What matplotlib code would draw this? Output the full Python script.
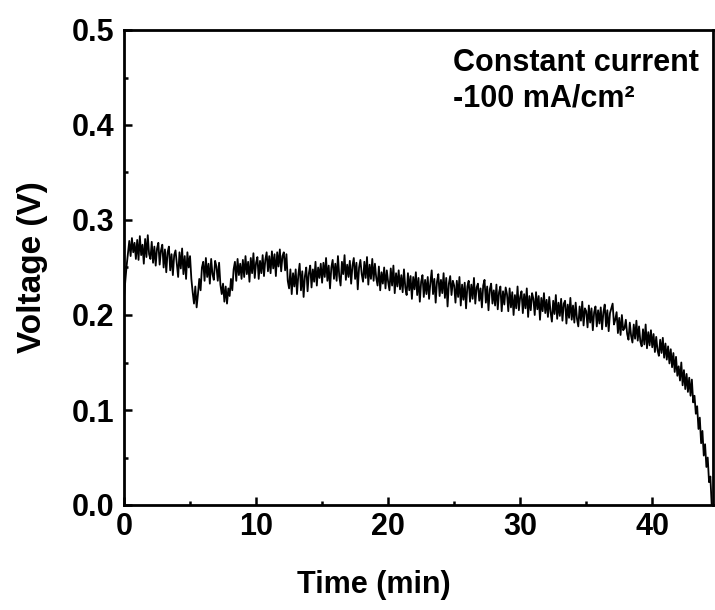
import numpy as np
import matplotlib
matplotlib.use('Agg')
import matplotlib.pyplot as plt
from matplotlib.ticker import MultipleLocator

# voltage trace, mV, one value every 0.1 min
dt = 0.1
mv = [
    218, 236, 252, 265, 278, 262, 281, 266, 276, 259,   # 0 min
    279, 258, 283, 263, 274, 254, 280, 261, 284, 264,   # 1
    259, 277, 255, 272, 252, 270, 276, 253, 268, 274,   # 2
    250, 269, 245, 266, 272, 247, 264, 242, 263, 268,   # 3
    254, 240, 266, 249, 270, 243, 262, 238, 266, 250,   # 4
    262, 238, 224, 212, 230, 208, 222, 238, 226, 250,   # 5
    256, 236, 260, 240, 254, 233, 259, 243, 237, 257,   # 6
    251, 236, 255, 232, 222, 233, 214, 230, 212, 228,   # 7
    220, 238, 226, 248, 256, 236, 259, 242, 254, 238,   # 8
    258, 240, 262, 243, 256, 235, 260, 244, 265, 239,   # 9
    255, 261, 238, 257, 244, 263, 241, 258, 266, 246,   # 10
    262, 244, 267, 249, 264, 241, 266, 251, 269, 246,   # 11
    262, 266, 247, 264, 236, 228, 248, 222, 244, 230,   # 12
    248, 222, 242, 254, 226, 246, 219, 241, 250, 225,   # 13
    244, 252, 229, 248, 235, 256, 231, 250, 239, 254,   # 14
    234, 255, 240, 260, 236, 252, 228, 250, 258, 238,   # 15
    254, 236, 262, 241, 231, 256, 243, 263, 237, 253,   # 16
    240, 257, 233, 252, 260, 238, 255, 227, 250, 258,   # 17
    243, 235, 256, 239, 261, 232, 253, 238, 259, 236,   # 18
    254, 239, 231, 251, 226, 245, 233, 250, 228, 247,   # 19
    235, 226, 249, 231, 252, 223, 244, 230, 247, 227,   # 20
    242, 224, 248, 229, 221, 244, 226, 241, 217, 240,   # 21
    227, 245, 221, 239, 214, 235, 242, 219, 237, 222,   # 22
    240, 217, 234, 247, 222, 238, 213, 235, 243, 220,   # 23
    237, 223, 244, 218, 239, 209, 233, 241, 221, 236,   # 24
    231, 213, 236, 219, 240, 210, 232, 216, 234, 207,   # 25
    230, 236, 214, 232, 217, 239, 212, 229, 233, 215,   # 26
    228, 208, 231, 237, 213, 230, 205, 227, 233, 212,   # 27
    226, 210, 232, 206, 224, 230, 204, 225, 211, 229,   # 28
    222, 204, 228, 208, 224, 200, 221, 207, 230, 205,   # 29
    219, 225, 202, 222, 207, 228, 198, 220, 205, 223,   # 30
    217, 200, 224, 206, 220, 195, 218, 204, 223, 202,   # 31
    216, 198, 219, 203, 193, 215, 201, 221, 196, 213,   # 32
    199, 217, 194, 212, 215, 191, 211, 197, 218, 195,   # 33
    210, 192, 213, 196, 188, 209, 194, 214, 189, 207,   # 34
    204, 187, 210, 192, 207, 184, 203, 209, 188, 205,   # 35
    191, 208, 185, 203, 211, 188, 205, 183, 202, 207,   # 36
    212, 190, 195, 203, 181, 197, 179, 200, 184, 186,   # 37
    195, 180, 174, 192, 178, 171, 190, 175, 194, 173,   # 38
    188, 172, 167, 185, 169, 190, 165, 182, 168, 184,   # 39
    166, 180, 161, 177, 163, 157, 174, 160, 176, 155,   # 40
    170, 153, 167, 149, 164, 145, 160, 140, 156, 136,   # 41
    146, 131, 150, 126, 142, 122, 138, 119, 134, 115,   # 42
    132, 108, 115, 96, 104, 80, 92, 65, 78, 52,         # 43
    64, 40, 50, 24, 30, 0,                              # 44
]
volt = np.array(mv) / 1000.0
time = np.arange(len(volt)) * dt

plt.rcParams['font.family'] = ['Liberation Sans', 'DejaVu Sans']
plt.rcParams['font.weight'] = 'bold'

fig = plt.figure(figsize=(7.15, 6.10), dpi=100)
ax = fig.add_axes([124/715, 105/610, 589/715, 475/610])

ax.plot(time, volt, color='black', linewidth=1.3)

ax.set_xlim(0, 44.6)
ax.set_ylim(0, 0.5)
ax.xaxis.set_major_locator(MultipleLocator(10))
ax.xaxis.set_minor_locator(MultipleLocator(5))
ax.yaxis.set_major_locator(MultipleLocator(0.1))
ax.yaxis.set_minor_locator(MultipleLocator(0.05))
ax.yaxis.set_major_formatter(plt.FormatStrFormatter('%.1f'))

for s in ax.spines.values():
    s.set_linewidth(2.0)
ax.tick_params(which='both', direction='in', top=False, right=False, width=1.8)
ax.tick_params(which='major', length=6, labelsize=22, pad=5)
ax.tick_params(which='minor', length=3)
ax.tick_params(axis='y', which='major', pad=7)

ax.set_xlabel('Time (min)', fontsize=22, fontweight='bold', labelpad=20, x=0.424)
ax.set_ylabel('Voltage (V)', fontsize=24, fontweight='bold', labelpad=17)

ax.text(0.559, 0.962, 'Constant current\n-100 mA/cm²', transform=ax.transAxes,
        fontsize=22, fontweight='bold', va='top', ha='left', linespacing=1.25)

fig.savefig('out.png', dpi=100)
